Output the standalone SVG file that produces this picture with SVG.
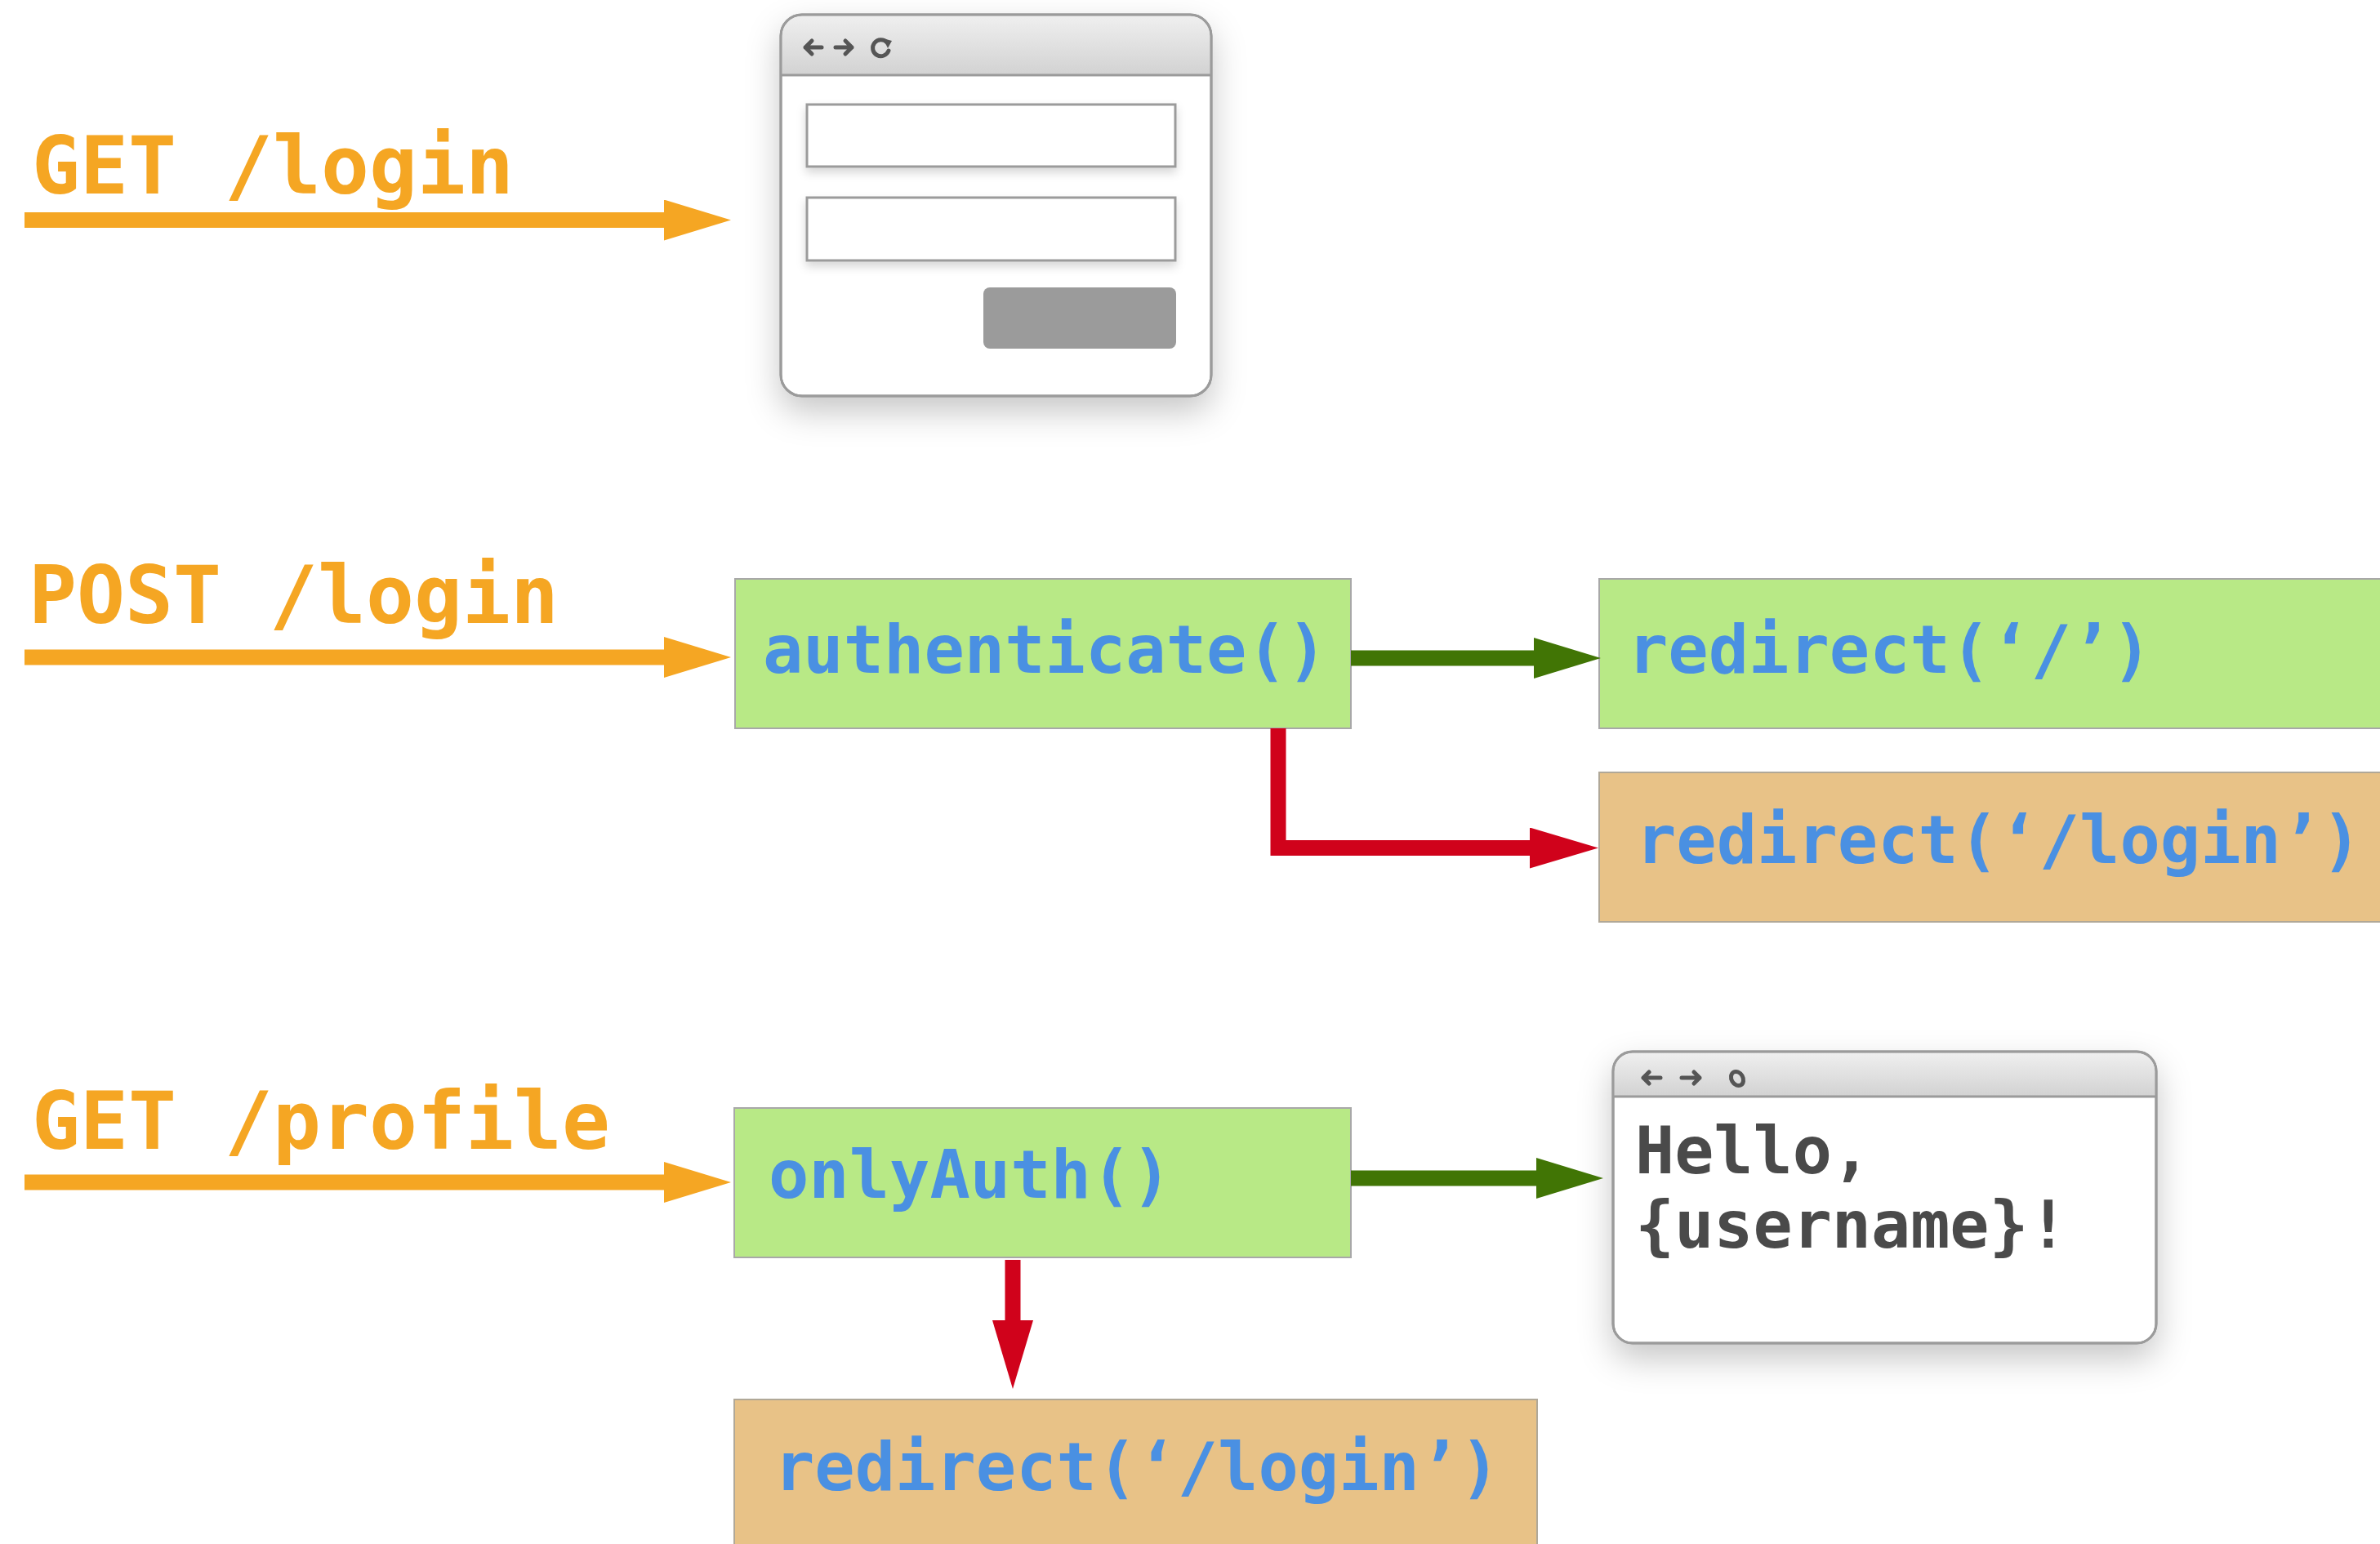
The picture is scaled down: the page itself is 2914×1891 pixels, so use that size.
<svg xmlns="http://www.w3.org/2000/svg" width="2914" height="1891" viewBox="0 0 2914 1891">
<style>
  .lbl{font-family:"DejaVu Sans Mono","Liberation Mono",monospace;font-weight:bold;font-size:98px;fill:#F5A623}
  .code{font-family:"DejaVu Sans Mono","Liberation Mono",monospace;font-weight:bold;font-size:82px;fill:#4A90E2}
  .hello{font-family:"DejaVu Sans Mono","Liberation Mono",monospace;font-weight:bold;font-size:80px;fill:#4A4A4A}
  .ok{fill:#B8E986;stroke:#A8A8A8;stroke-width:2}
  .fail{fill:#E8C287;stroke:#B0A898;stroke-width:2}
  .win{fill:#FFFFFF;stroke:#9B9B9B;stroke-width:3}
  .field{fill:#FFFFFF;stroke:#9B9B9B;stroke-width:3}
  .icon{fill:none;stroke:#555555;stroke-width:5;stroke-linecap:round;stroke-linejoin:round}
  .c-orange{fill:none;stroke:#F5A623;stroke-width:19}
  .c-green{fill:none;stroke:#417505;stroke-width:19}
  .c-red{fill:none;stroke:#D0021B;stroke-width:19;stroke-linejoin:miter}
</style>
<defs>
  <marker id="hOrange" markerUnits="userSpaceOnUse" viewBox="0 0 82 50" markerWidth="82" markerHeight="50" refX="4" refY="25" orient="auto"><path d="M0,0 L82,25 L0,50 Z" fill="#F5A623"/></marker>
  <marker id="hGreen" markerUnits="userSpaceOnUse" viewBox="0 0 82 50" markerWidth="82" markerHeight="50" refX="4" refY="25" orient="auto"><path d="M0,0 L82,25 L0,50 Z" fill="#417505"/></marker>
  <marker id="hRed" markerUnits="userSpaceOnUse" viewBox="0 0 84 50" markerWidth="84" markerHeight="50" refX="4" refY="25" orient="auto"><path d="M0,0 L84,25 L0,50 Z" fill="#D0021B"/></marker>
  <linearGradient id="bar" x1="0" y1="0" x2="0" y2="1"><stop offset="0" stop-color="#EFEFEF"/><stop offset="1" stop-color="#D2D2D2"/></linearGradient>
  <filter id="shadow" x="-20%" y="-20%" width="140%" height="160%"><feDropShadow dx="0" dy="18" stdDeviation="20" flood-color="#000" flood-opacity="0.22"/></filter>
  <filter id="fshadow" x="-10%" y="-30%" width="120%" height="180%"><feDropShadow dx="0" dy="6" stdDeviation="6" flood-color="#000" flood-opacity="0.16"/></filter>
</defs>
<rect width="2914" height="1891" fill="#FFFFFF"/>

<g id="label-get-login"><text class="lbl" x="39" y="237">GET /login</text></g>
<g id="label-post-login"><text class="lbl" x="35" y="763">POST /login</text></g>
<g id="label-get-profile"><text class="lbl" x="39" y="1407">GET /profile</text></g>

<g id="login-page">
  <rect class="win" x="956" y="18" width="527" height="467" rx="26" filter="url(#shadow)"/>
  <path d="M957.5,92 V44 a24.5,24.5 0 0 1 24.5,-24.5 H1457 a24.5,24.5 0 0 1 24.5,24.5 V92 Z" fill="url(#bar)"/>
  <rect x="956" y="18" width="527" height="467" rx="26" fill="none" stroke="#9B9B9B" stroke-width="3"/>
  <line x1="957" y1="92" x2="1482" y2="92" stroke="#9B9B9B" stroke-width="3"/>
  <path class="icon" d="M1006,58 H986 M994,50 L986,58 L994,66"/>
  <path class="icon" d="M1023,58 H1043 M1035,50 L1043,58 L1035,66"/>
  <path class="icon" d="M1086,52 A10,10 0 1 0 1088,62"/>
  <path d="M1081,47 L1092,50 L1087,59 Z" fill="#555555"/>
  <rect class="field" x="988" y="128" width="451" height="76" filter="url(#fshadow)"/>
  <rect class="field" x="988" y="242" width="451" height="77" filter="url(#fshadow)"/>
  <rect x="1204" y="352" width="236" height="75" rx="8" fill="#9B9B9B"/>
</g>

<g id="authenticate"><rect class="ok" x="900" y="709" width="754" height="183"/><text class="code" x="934" y="824">authenticate()</text></g>
<g id="redirect-home"><rect class="ok" x="1958" y="709" width="980" height="183"/><text class="code" x="1993" y="824">redirect(‘/’)</text></g>
<g id="redirect-login-1"><rect class="fail" x="1958" y="946" width="980" height="183"/><text class="code" x="2003" y="1057">redirect(‘/login’)</text></g>
<g id="onlyauth"><rect class="ok" x="899" y="1357" width="755" height="183"/><text class="code" x="941" y="1467">onlyAuth()</text></g>
<g id="redirect-login-2"><rect class="fail" x="899" y="1714" width="983" height="200"/><text class="code" x="948" y="1825">redirect(‘/login’)</text></g>

<g id="profile-page">
  <rect class="win" x="1975" y="1288" width="665" height="357" rx="24" filter="url(#shadow)"/>
  <path d="M1976.5,1343 V1312 a22.5,22.5 0 0 1 22.5,-22.5 H2616 a22.5,22.5 0 0 1 22.5,22.5 V1343 Z" fill="url(#bar)"/>
  <rect x="1975" y="1288" width="665" height="357" rx="24" fill="none" stroke="#9B9B9B" stroke-width="3"/>
  <line x1="1976" y1="1343" x2="2639" y2="1343" stroke="#9B9B9B" stroke-width="3"/>
  <path class="icon" d="M2033,1320 H2012 M2019,1313 L2012,1320 L2019,1327"/>
  <path class="icon" d="M2059,1320 H2081 M2074,1313 L2081,1320 L2074,1327"/>
  <ellipse class="icon" cx="2127" cy="1321" rx="7" ry="9" transform="rotate(-30 2127 1321)"/>
  <text class="hello" x="2002" y="1437">Hello,</text>
  <text class="hello" x="2002" y="1528">{username}!</text>
</g>

<g id="connectors">
  <path class="c-orange" d="M30,269.5 H817" marker-end="url(#hOrange)"/>
  <path class="c-orange" d="M30,805 H817" marker-end="url(#hOrange)"/>
  <path class="c-orange" d="M30,1448 H817" marker-end="url(#hOrange)"/>
  <path class="c-green" d="M1654,806 H1882" marker-end="url(#hGreen)"/>
  <path class="c-red" d="M1565,892 V1038.5 H1877" marker-end="url(#hRed)"/>
  <path class="c-green" d="M1654,1443 H1885" marker-end="url(#hGreen)"/>
  <path class="c-red" d="M1240,1543 V1621" marker-end="url(#hRed)"/>
</g>
</svg>
